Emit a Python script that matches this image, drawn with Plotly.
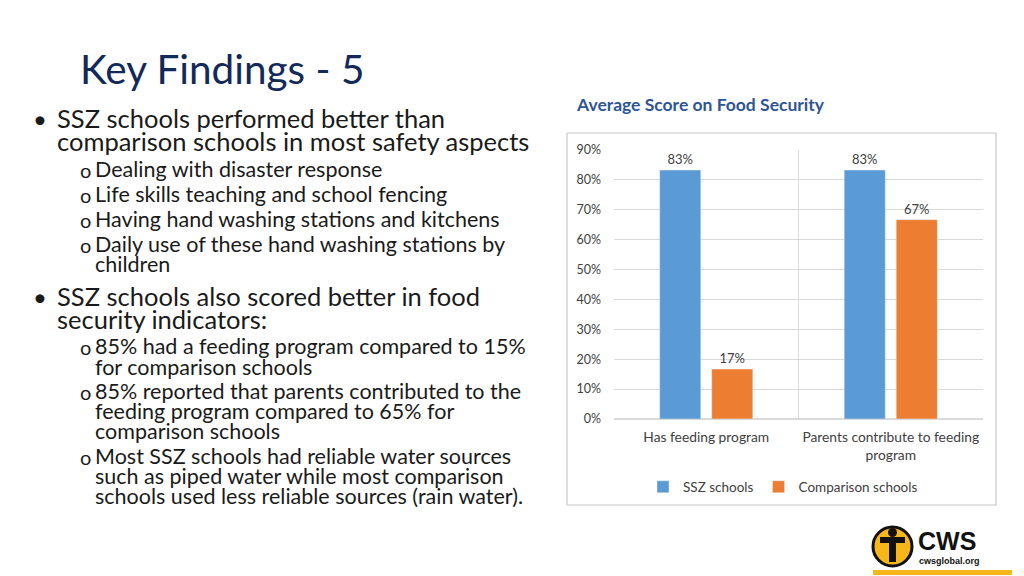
import plotly.graph_objects as go

# chart data
categories = ["Has feeding program", "Parents contribute to feeding<br>program"]
ssz_scores = [0.833, 0.833]
comparison_scores = [0.167, 0.667]
y_ticks = [0, 0.1, 0.2, 0.3, 0.4, 0.5, 0.6, 0.7, 0.8, 0.9]

# slide text
slide_title = "Key Findings - 5"
chart_title = "Average Score on Food Security"
bullet_lines = [
    # (kind, text, y in px)
    ("main", "SSZ schools performed better than", 118),
    ("cont", "comparison schools in most safety aspects", 141),
    ("sub", "Dealing with disaster response", 169),
    ("sub", "Life skills teaching and school fencing", 194),
    ("sub", "Having hand washing stations and kitchens", 219),
    ("sub", "Daily use of these hand washing stations by", 244),
    ("subc", "children", 264),
    ("main", "SSZ schools also scored better in food", 296),
    ("cont", "security indicators:", 319),
    ("sub", "85% had a feeding program compared to 15%", 346),
    ("subc", "for comparison schools", 367),
    ("sub", "85% reported that parents contributed to the", 391),
    ("subc", "feeding program compared to 65% for", 411),
    ("subc", "comparison schools", 431),
    ("sub", "Most SSZ schools had reliable water sources", 456),
    ("subc", "such as piped water while most comparison", 476),
    ("subc", "schools used less reliable sources (rain water).", 496),
]

W, H = 1024, 576
FONT = "Lato"
BLUE = "#5B9BD5"
ORANGE = "#ED7D31"


def px(x):
    return x / W


def py(y):
    return (H - y) / H


def note(text, x, y, size, color, family=FONT):
    return dict(text=text, xref="paper", yref="paper", x=px(x), y=py(y),
                xanchor="left", yanchor="middle", showarrow=False,
                font=dict(family=family, size=size, color=color))


fig = go.Figure()
fig.add_trace(go.Bar(
    x=categories, y=ssz_scores, name="SSZ schools", marker_color=BLUE,
    texttemplate="%{y:.0%}", textposition="outside",
    textfont=dict(size=13, color="#404040", family=FONT), cliponaxis=False,
))
fig.add_trace(go.Bar(
    x=categories, y=comparison_scores, name="Comparison schools", marker_color=ORANGE,
    texttemplate="%{y:.0%}", textposition="outside",
    textfont=dict(size=13, color="#404040", family=FONT), cliponaxis=False,
))

annotations = [
    note(slide_title, 78, 69, 40.5, "#12295A"),
    note("<b>" + chart_title + "</b>", 574, 105, 17.5, "#2F5597"),
]
for kind, text, y in bullet_lines:
    if kind == "main":
        annotations.append(note("•", 31, y, 24, "#1a1a1a"))
    if kind == "sub":
        annotations.append(note("o", 78, y + 1, 20, "#1a1a1a"))
    big = kind in ("main", "cont")
    annotations.append(note(text, 55 if big else 93, y, 25.5 if big else 21.5, "#1a1a1a"))

# logo text
annotations.append(note("<b>CWS</b>", 916, 541, 25, "#111", "Liberation Sans"))
annotations.append(note("<b>cwsglobal.org</b>", 917, 561, 9, "#111", "Liberation Sans"))

shapes = [
    # chart frame
    dict(type="rect", xref="paper", yref="paper", x0=px(567), x1=px(996), y0=py(505), y1=py(133),
         line=dict(color="#C8C8C8", width=1.2), fillcolor="rgba(0,0,0,0)", layer="below"),
    # logo
    dict(type="circle", xref="paper", yref="paper", x0=px(873), x1=px(912), y0=py(566), y1=py(527),
         line=dict(color="#111", width=3), fillcolor="#F7B718"),
    dict(type="rect", xref="paper", yref="paper", x0=px(880), x1=px(905), y0=py(543), y1=py(537),
         line=dict(width=0), fillcolor="#111"),
    dict(type="rect", xref="paper", yref="paper", x0=px(889), x1=px(896), y0=py(562), y1=py(537),
         line=dict(width=0), fillcolor="#111"),
    dict(type="circle", xref="paper", yref="paper", x0=px(888), x1=px(897), y0=py(537), y1=py(528),
         line=dict(width=0), fillcolor="#111"),
    dict(type="rect", xref="paper", yref="paper", x0=px(873), x1=px(1012), y0=py(575), y1=py(570),
         line=dict(width=0), fillcolor="#F7B718"),
]

fig.update_layout(
    width=W, height=H,
    margin=dict(l=0, r=0, t=0, b=0, autoexpand=False),
    paper_bgcolor="white", plot_bgcolor="white",
    font=dict(family=FONT, color="#404040", size=12),
    barmode="group", bargap=0.436, bargroupgap=0.21,
    xaxis=dict(domain=[px(614), px(983)], tickson="boundaries", showgrid=True,
               gridcolor="#D9D9D9", ticks="", showline=False, tickangle=0, automargin=False,
               ticklabelstandoff=8, tickfont=dict(size=13.8)),
    yaxis=dict(domain=[py(419), py(150)], range=[0, 0.9], tickvals=y_ticks, tickformat=".0%",
               showgrid=True, gridcolor="#D9D9D9", zeroline=True, zerolinecolor="#D9D9D9",
               automargin=False, ticklabelstandoff=12, tickfont=dict(size=12.5)),
    showlegend=True,
    legend=dict(orientation="h", x=px(783), xanchor="center", y=py(487), yanchor="middle",
                font=dict(size=13.5, color="#404040"), itemwidth=30, traceorder="normal"),
    annotations=annotations,
    shapes=shapes,
)

# pin the figure to the top-left corner of the page
pin = (
    "document.body.style.margin='0';"
    "document.body.style.overflow='hidden';"
    "var d=document.getElementById('{plot_id}');"
    "d.style.position='fixed';d.style.top='0';d.style.left='0';"
)
fig.write_html("out.html", config={"displayModeBar": False}, post_script=pin)
